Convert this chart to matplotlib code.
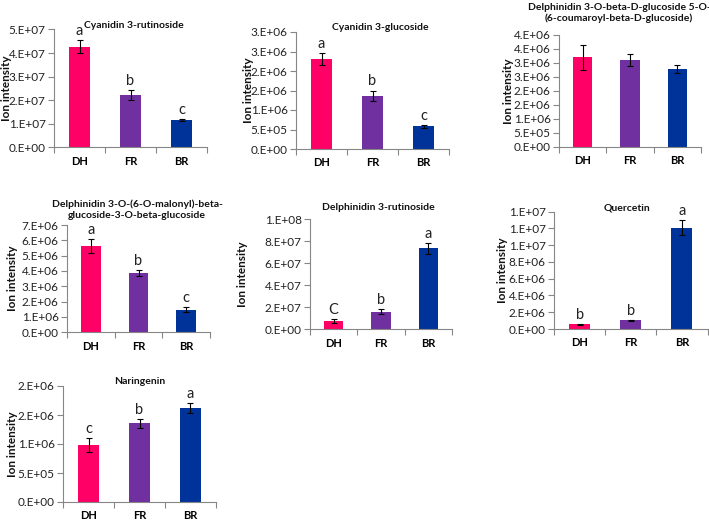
import math
import numpy as np
import matplotlib
matplotlib.use("Agg")
import matplotlib.pyplot as plt
from matplotlib.ticker import FuncFormatter

plt.rcParams['font.family'] = ['Lato', 'DejaVu Sans']

W, H = 709, 522

categories = ['DH', 'FR', 'BR']
bar_colors = ['#FF0066', '#7030A0', '#003399']

titles = [
    'Cyanidin 3-rutinoside',
    'Cyanidin 3-glucoside',
    'Delphinidin 3-O-beta-D-glucoside 5-O-\n(6-coumaroyl-beta-D-glucoside)',
    'Delphinidin 3-O-(6-O-malonyl)-beta-\nglucoside-3-O-beta-glucoside',
    'Delphinidin 3-rutinoside',
    'Quercetin',
    'Naringenin',
]

cyanidin_rut = [4.27e7, 2.22e7, 1.15e7]
cyanidin_rut_err = [0.27e7, 0.20e7, 0.05e7]
cyanidin_glu = [2.31e6, 1.37e6, 0.58e6]
cyanidin_glu_err = [0.16e6, 0.13e6, 0.03e6]
delph_coum = [3.20e6, 3.10e6, 2.79e6]
delph_coum_err = [0.46e6, 0.21e6, 0.14e6]
delph_malonyl = [5.63e6, 3.85e6, 1.47e6]
delph_malonyl_err = [0.47e6, 0.20e6, 0.17e6]
delph_rut = [0.75e7, 1.60e7, 7.36e7]
delph_rut_err = [0.15e7, 0.22e7, 0.50e7]
quercetin = [0.56e6, 1.04e6, 1.21e7]
quercetin_err = [0.05e6, 0.07e6, 0.09e7]
naringenin = [0.976e6, 1.356e6, 1.616e6]
naringenin_err = [0.12e6, 0.08e6, 0.09e6]

letters = [
    ['a', 'b', 'c'],
    ['a', 'b', 'c'],
    ['', '', ''],
    ['a', 'b', 'c'],
    ['C', 'b', 'a'],
    ['b', 'b', 'a'],
    ['c', 'b', 'a'],
]

means = [cyanidin_rut, cyanidin_glu, delph_coum, delph_malonyl, delph_rut, quercetin, naringenin]
errors = [cyanidin_rut_err, cyanidin_glu_err, delph_coum_err, delph_malonyl_err,
          delph_rut_err, quercetin_err, naringenin_err]

# y axis max and step per panel
y_max = [5e7, 3e6, 4e6, 7e6, 1e8, 1.4e7, 2e6]
y_step = [1e7, 5e5, 5e5, 1e6, 2e7, 2e6, 5e5]

# layout in pixels: axes (left, top, right, bottom), title centre, ylabel x
boxes = [
    (54, 29.5, 207, 147.3),
    (296, 32, 449, 149),
    (559, 35, 701, 147),
    (67, 225, 210, 332.3),
    (310, 219.3, 452, 329.3),
    (554, 211.7, 707.5, 329),
    (63, 386, 216, 502),
]
title_pos = [(134, 26), (380, 28), (619, 13), (137, 209.7), (378, 208), (627, 208), (140, 382)]
ylabel_x = [6, 248, 509, 12, 242, 503, 12]


def excel_sci(v, pos=None):
    if abs(v) < 1e-12:
        return '0.E+00'
    e = int(math.floor(math.log10(abs(v)) + 1e-9))
    m = v / 10 ** e
    r = int(math.floor(m + 0.5 + 1e-9))
    if r >= 10:
        r = 1
        e += 1
    return '{}.E{:+03d}'.format(r, e)


fig = plt.figure(figsize=(W / 100, H / 100), dpi=100)
axis_grey = '#868686'

for i in range(len(means)):
    l, t, r, b = boxes[i]
    ax = fig.add_axes([l / W, 1 - b / H, (r - l) / W, (b - t) / H])
    x = np.arange(len(categories))
    ax.bar(x, means[i], width=0.41, color=bar_colors, zorder=2)
    ax.errorbar(x, means[i], yerr=errors[i], fmt='none', ecolor='black',
                elinewidth=0.8, capsize=2.5, capthick=0.8, zorder=3)
    for xi, m, e, lt in zip(x, means[i], errors[i], letters[i]):
        if lt:
            ax.annotate(lt, (xi, m + e), xytext=(0, 1.5), textcoords='offset points',
                        ha='center', va='bottom', fontsize=10.5, color='#222222')

    ax.set_xlim(-0.5, 2.5)
    ax.set_ylim(0, y_max[i])
    ax.set_yticks(np.arange(0, y_max[i] + y_step[i] / 2, y_step[i]))
    ax.yaxis.set_major_formatter(FuncFormatter(excel_sci))
    ax.set_xticks([-0.5, 0.5, 1.5, 2.5])
    ax.set_xticklabels([])
    ax.set_xticks(x, minor=True)
    ax.set_xticklabels(categories, minor=True, fontweight='bold', fontsize=8)
    ax.tick_params(axis='x', which='minor', length=0, pad=6)
    ax.tick_params(axis='x', which='major', length=4, color=axis_grey, width=0.8)
    ax.tick_params(axis='y', length=4, color=axis_grey, width=0.8, pad=2,
                   labelsize=8.5, labelcolor='#222222')
    for s in ['top', 'right']:
        ax.spines[s].set_visible(False)
    for s in ['left', 'bottom']:
        ax.spines[s].set_color(axis_grey)
        ax.spines[s].set_linewidth(0.8)
    ax.patch.set_alpha(0)

    tx, ty = title_pos[i]
    fig.text(tx / W, 1 - ty / H, titles[i], ha='center', va='center',
             fontsize=7.5, fontweight='bold', linespacing=1.3, color='#111111')
    fig.text(ylabel_x[i] / W, 1 - (t + b) / 2 / H, 'Ion intensity', rotation=90,
             ha='center', va='center', fontsize=8.5, fontweight='bold', color='#111111')

fig.savefig('out.png', dpi=100)
